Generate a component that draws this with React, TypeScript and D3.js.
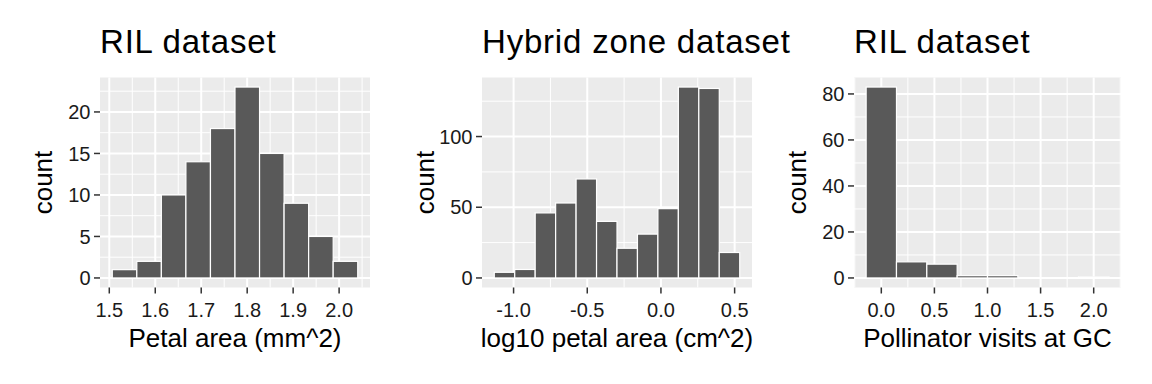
import * as d3 from "d3"

// RIL dataset: petal area (mm^2)
const rilAreaStart = 1.5065
const rilAreaWidth = 0.0534
const rilAreaCounts = [1, 2, 10, 14, 18, 23, 15, 9, 5, 2]
const rilAreaXTicks = [1.5, 1.6, 1.7, 1.8, 1.9, 2.0]
const rilAreaYTicks = [0, 5, 10, 15, 20]

// Hybrid zone: log10 petal area (cm^2)
const hybridStart = -1.131
const hybridWidth = 0.1388
const hybridCounts = [4, 6, 46, 53, 70, 40, 21, 31, 49, 135, 134, 18]
const hybridXTicks = [-1.0, -0.5, 0.0, 0.5]
const hybridYTicks = [0, 50, 100]

// RIL dataset: pollinator visits at GC
const visitsStart = -1 / 7
const visitsWidth = 2 / 7
const visitsCounts = [83, 7, 6, 1, 1, 0, 0, 0.5]
const visitsXTicks = [0.0, 0.5, 1.0, 1.5, 2.0]
const visitsYTicks = [0, 20, 40, 60, 80]

const FONT = "'Liberation Sans', Arial, Helvetica, sans-serif"
const TOP = 77.5
const BOTTOM = 287.5

type Props = {
  left: number
  right: number
  title: string
  xLabel: string
  start: number
  width: number
  counts: number[]
  xTicks: number[]
  yTicks: number[]
}

function midpoints(ticks: number[], lo: number, hi: number) {
  const step = ticks[1] - ticks[0]
  const out: number[] = []
  for (let i = -1; i < ticks.length; i++) {
    const m = ticks[0] + step * (i + 0.5)
    if (m > lo && m < hi) out.push(m)
  }
  return out
}

function Histogram({ left, right, title, xLabel, start, width, counts, xTicks, yTicks }: Props) {
  const end = start + width * counts.length
  const pad = (end - start) * 0.05
  const x = d3.scaleLinear().domain([start - pad, end + pad]).range([left, right])
  const maxY = d3.max(counts) ?? 1
  const y = d3.scaleLinear().domain([-0.05 * maxY, 1.05 * maxY]).range([BOTTOM, TOP])

  const xMinor = midpoints(xTicks, x.domain()[0], x.domain()[1])
  const yMinor = midpoints(yTicks, y.domain()[0], y.domain()[1])
  const fmt = d3.format(".1f")
  const cx = (left + right) / 2

  return (
    <g>
      <rect x={left} y={TOP} width={right - left} height={BOTTOM - TOP} fill="#EBEBEB" />
      {xMinor.map((v) => (
        <line key={"xm" + v} x1={x(v)} x2={x(v)} y1={TOP} y2={BOTTOM} stroke="#fff" strokeWidth={1} />
      ))}
      {yMinor.map((v) => (
        <line key={"ym" + v} x1={left} x2={right} y1={y(v)} y2={y(v)} stroke="#fff" strokeWidth={1} />
      ))}
      {xTicks.map((v) => (
        <line key={"xM" + v} x1={x(v)} x2={x(v)} y1={TOP} y2={BOTTOM} stroke="#fff" strokeWidth={2} />
      ))}
      {yTicks.map((v) => (
        <line key={"yM" + v} x1={left} x2={right} y1={y(v)} y2={y(v)} stroke="#fff" strokeWidth={2} />
      ))}
      {counts.map((c, i) => (
        <rect
          key={"b" + i}
          x={x(start + i * width)}
          y={y(c)}
          width={x(start + (i + 1) * width) - x(start + i * width)}
          height={y(0) - y(c)}
          fill="#595959"
          stroke="#fff"
          strokeWidth={1.2}
        />
      ))}
      {yTicks.map((v) => (
        <g key={"yt" + v}>
          <line x1={left - 6} x2={left} y1={y(v)} y2={y(v)} stroke="#333" strokeWidth={1.5} />
          <text x={left - 9.5} y={y(v)} dy="0.36em" textAnchor="end" fontSize={20} fill="#1a1a1a">
            {v}
          </text>
        </g>
      ))}
      {xTicks.map((v) => (
        <g key={"xt" + v}>
          <line x1={x(v)} x2={x(v)} y1={BOTTOM} y2={BOTTOM + 6} stroke="#333" strokeWidth={1.5} />
          <text x={x(v)} y={316.5} textAnchor="middle" fontSize={20} fill="#1a1a1a">
            {fmt(v).replace("\u2212", "-")}
          </text>
        </g>
      ))}
      <text x={cx} y={346.5} textAnchor="middle" fontSize={26} fill="#000">
        {xLabel}
      </text>
      <text
        transform={`translate(${left - 48.5},${(TOP + BOTTOM) / 2}) rotate(-90)`}
        textAnchor="middle"
        fontSize={26}
        fill="#000"
      >
        count
      </text>
      <text x={left} y={53} fontSize={33} letterSpacing={0.8} fill="#000">
        {title}
      </text>
    </g>
  )
}

export default function App() {
  return (
    <svg
      width={1152}
      height={384}
      style={{ position: "absolute", left: 0, top: 0, background: "#fff", fontFamily: FONT }}
    >
      <rect width={1152} height={384} fill="#fff" />
      <Histogram
        left={100}
        right={370}
        title="RIL dataset"
        xLabel="Petal area (mm^2)"
        start={rilAreaStart}
        width={rilAreaWidth}
        counts={rilAreaCounts}
        xTicks={rilAreaXTicks}
        yTicks={rilAreaYTicks}
      />
      <Histogram
        left={482}
        right={752}
        title="Hybrid zone dataset"
        xLabel="log10 petal area (cm^2)"
        start={hybridStart}
        width={hybridWidth}
        counts={hybridCounts}
        xTicks={hybridXTicks}
        yTicks={hybridYTicks}
      />
      <Histogram
        left={854}
        right={1121}
        title="RIL dataset"
        xLabel="Pollinator visits at GC"
        start={visitsStart}
        width={visitsWidth}
        counts={visitsCounts}
        xTicks={visitsXTicks}
        yTicks={visitsYTicks}
      />
    </svg>
  )
}
